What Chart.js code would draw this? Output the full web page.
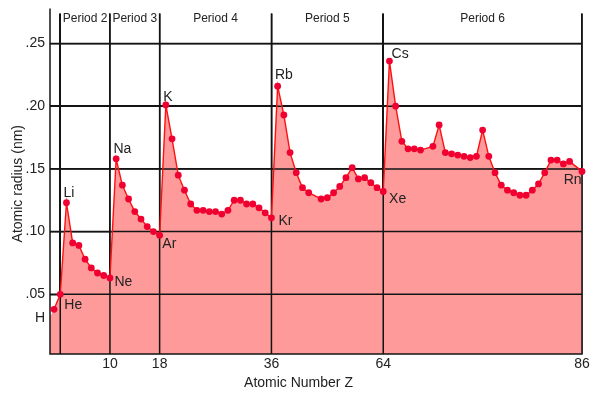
<!DOCTYPE html>
<html>
<head>
<meta charset="utf-8">
<script src="https://cdn.jsdelivr.net/npm/chart.js@4/dist/chart.umd.min.js"></script>
<style>
html,body{margin:0;padding:0;background:#fff;}
#wrap{width:596px;height:395px;position:relative;}
</style>
</head>
<body>
<div id="wrap"><canvas id="c" width="596" height="395"></canvas></div>
<script>
// ---- data ----
const atomicNumbers = [1,2,3,4,5,6,7,8,9,10,
  11,12,13,14,15,16,17,18,
  19,20,21,22,23,24,25,26,27,28,29,30,31,32,33,34,35,36,
  37,38,39,40,41,42,44,45,46,47,48,49,50,51,52,53,54,
  55,56,57,58,59,60,62,63,64,65,66,67,68,69,70,71,72,73,74,75,76,77,78,79,80,81,82,83,84,86];
const atomicRadii = [0.038,0.050,0.123,0.091,0.089,0.078,0.071,0.067,0.065,0.063,
  0.158,0.137,0.126,0.116,0.110,0.104,0.100,0.097,
  0.201,0.174,0.145,0.133,0.122,0.117,0.117,0.116,0.116,0.114,0.117,0.125,0.125,0.122,0.122,0.119,0.115,0.111,
  0.216,0.193,0.163,0.147,0.135,0.131,0.126,0.127,0.131,0.136,0.143,0.151,0.142,0.143,0.139,0.135,0.132,
  0.236,0.200,0.172,0.166,0.166,0.165,0.168,0.185,0.163,0.162,0.161,0.160,0.159,0.160,0.181,0.160,0.147,0.137,0.133,0.131,0.129,0.129,0.133,0.138,0.147,0.157,0.157,0.154,0.156,0.148];
// shaded area starts at the left edge of the plot
const fillEdgeZ = 0.35;
const fillEdgeRadius = 0.032;

const labelSymbols = ['H','He','Li','Ne','Na','Ar','K','Kr','Rb','Xe','Cs','Rn'];
const labelZ       = [1,2,3,10,11,18,19,36,37,54,55,86];

const periodNames  = ['Period 2','Period 3','Period 4','Period 5','Period 6'];
const periodBounds = [2,10,18,36,54,86];

const xTickValues = [2,10,18,36,54,86];
const xTickLabels = ['','10','18','36','64','86'];
const yTickValues = [0.05,0.10,0.15,0.20,0.25];
const yTickLabels = ['.05','.10','.15','.20','.25'];

// ---- styles (not data) ----
const labelOffsets = [[-14,8],[13,9.5],[2.5,-10.7],[13.5,3.4],[6.3,-11],[9.7,7.7],[2,-9.3],[14,1.7],[6.2,-12],[14.4,7],[10.7,-8],[-9.3,7.3]];
const FONT = '"Liberation Sans", Arial, Helvetica, sans-serif';
const GRID = '#141414';
const TEXT = '#222';

const lineData = atomicNumbers.map((z,i)=>({x:z,y:atomicRadii[i]}));
const fillData = [{x:fillEdgeZ,y:fillEdgeRadius}].concat(lineData);

function drawLines(chart){
  const {ctx, chartArea:a, scales:{x,y}} = chart;
  ctx.save();
  ctx.strokeStyle = GRID; ctx.lineWidth = 1.5;
  ctx.beginPath();
  periodBounds.forEach(z=>{const px=x.getPixelForValue(z); ctx.moveTo(px,a.top); ctx.lineTo(px,a.bottom);});
  yTickValues.forEach(v=>{const py=y.getPixelForValue(v); ctx.moveTo(a.left,py); ctx.lineTo(a.right,py);});
  ctx.moveTo(a.left,a.top-5); ctx.lineTo(a.left,a.bottom+0.75);
  ctx.moveTo(a.left,a.bottom); ctx.lineTo(a.right+0.75,a.bottom);
  ctx.stroke();
  ctx.restore();
}

const annot = {
  id:'annot',
  afterDatasetDraw(chart,args){
    if(args.index===1) drawLines(chart);
  },
  afterDraw(chart){
    const {ctx, chartArea:a, scales:{x,y}} = chart;
    ctx.save();
    ctx.fillStyle = TEXT;
    // period labels
    ctx.font = '12px '+FONT; ctx.textAlign='center'; ctx.textBaseline='alphabetic';
    periodNames.forEach((n,i)=>{
      const cx=(x.getPixelForValue(periodBounds[i])+x.getPixelForValue(periodBounds[i+1]))/2;
      ctx.fillText(n,cx,a.top+8.8);
    });
    // element labels
    ctx.font = '14px '+FONT;
    labelSymbols.forEach((s,i)=>{
      const k = atomicNumbers.indexOf(labelZ[i]);
      const px = x.getPixelForValue(labelZ[i]), py = y.getPixelForValue(atomicRadii[k]);
      ctx.fillText(s, px+labelOffsets[i][0], py+labelOffsets[i][1]+5);
    });
    // axis titles
    ctx.fillText('Atomic Number Z', 298.5, 387);
    ctx.translate(21.7, (a.top+a.bottom)/2);
    ctx.rotate(-Math.PI/2);
    ctx.fillText('Atomic radius (nm)', 0, 0);
    ctx.restore();
  }
};

new Chart(document.getElementById('c'), {
  type:'line',
  data:{
    datasets:[
      {
        data: lineData,
        borderColor:'#ff1010',
        borderWidth:1.4,
        pointRadius:3.4,
        pointBackgroundColor:'#ef0030',
        pointBorderWidth:0,
        fill:false,
        tension:0,
        clip:false,
        order:0
      },
      {
        data: fillData,
        borderWidth:0,
        borderColor:'rgba(0,0,0,0)',
        pointRadius:0,
        backgroundColor:'#ff9a9a',
        fill:'start',
        tension:0,
        order:1
      }
    ]
  },
  options:{
    responsive:false,
    animation:false,
    events:[],
    layout:{padding:{left:0,right:14,top:12,bottom:0}},
    plugins:{legend:{display:false},tooltip:{enabled:false}},
    scales:{
      x:{
        type:'linear', min:fillEdgeZ, max:86,
        afterFit(s){ s.height = 41; },
        afterBuildTicks(s){ s.ticks = xTickValues.map(v=>({value:v})); },
        ticks:{
          autoSkip:false, maxRotation:0, padding:2,
          color:TEXT, font:{family:FONT,size:14},
          callback:(v)=>{const i=xTickValues.indexOf(v); return i<0?'':xTickLabels[i];}
        },
        grid:{color:GRID,lineWidth:1.5,drawTicks:false},
        border:{display:false}
      },
      y:{
        type:'linear', min:0.0024, max:0.274,
        afterFit(s){ s.width = 50; },
        afterBuildTicks(s){ s.ticks = yTickValues.map(v=>({value:v})); },
        ticks:{
          autoSkip:false, padding:5,
          color:TEXT, font:{family:FONT,size:14},
          callback:(v)=>{const i=yTickValues.findIndex(t=>Math.abs(t-v)<1e-9); return i<0?'':yTickLabels[i];}
        },
        grid:{color:GRID,lineWidth:1.5,drawTicks:false},
        border:{display:false}
      }
    }
  },
  plugins:[annot]
});
</script>
</body>
</html>
